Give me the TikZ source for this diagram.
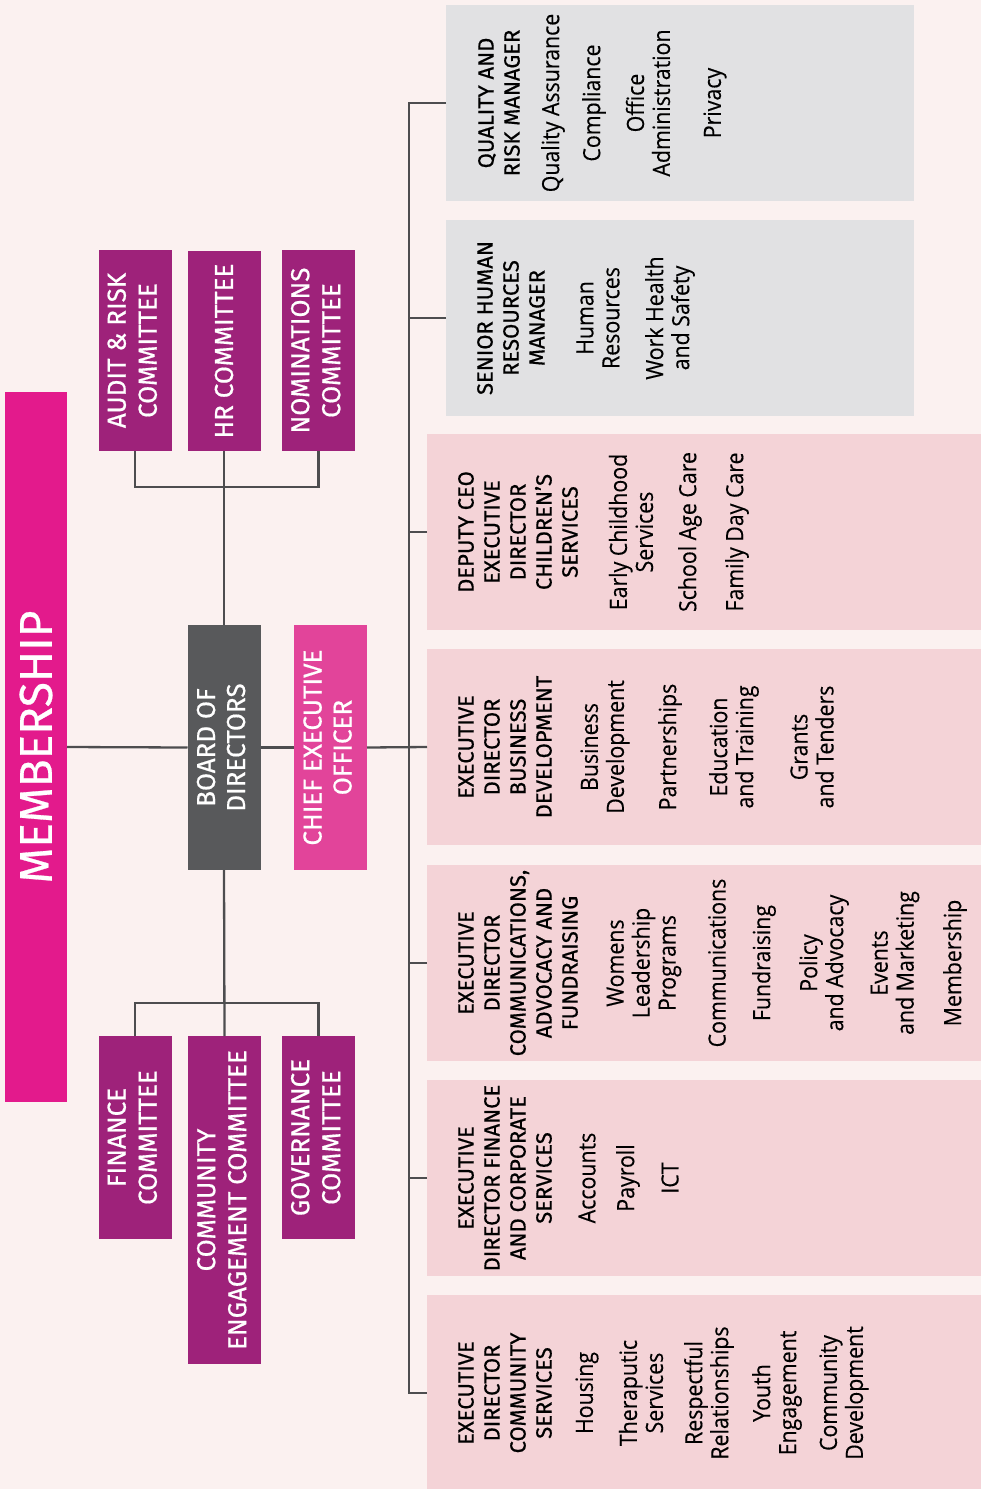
\documentclass[tikz,border=0pt]{standalone}
\usepackage{fontspec}
\newfontfamily\headf[FakeBold=0.6]{Fira Sans}
\newfontfamily\bodyf[FakeStretch=0.9,FakeBold=0.3]{Open Sans}
\definecolor{bgc}{HTML}{FBF1F0}
\definecolor{memc}{HTML}{E31A8C}
\definecolor{comc}{HTML}{9E227A}
\definecolor{boardc}{HTML}{58595B}
\definecolor{ceoc}{HTML}{E2449A}
\definecolor{grayc}{HTML}{E1E1E3}
\definecolor{pinkc}{HTML}{F4D3D7}
\definecolor{linec}{HTML}{4D4D4F}
\begin{document}
\begin{tikzpicture}[x=1pt,y=-1pt,
  rect/.style={draw=none,inner sep=0pt,outer sep=0pt,anchor=center,text=white},
  combox/.style={rect,fill=comc,minimum width=73pt,font=\headf\fontsize{26}{31}\selectfont},
  dept/.style={rect,minimum width=554pt,minimum height=196pt,fill=pinkc},
  mgr/.style={rect,minimum width=468pt,minimum height=196pt,fill=grayc},
  hd/.style={rotate=90,align=center,inner sep=0pt,text=black,font=\headf\fontsize{22}{26}\selectfont},
  item/.style={rotate=90,align=center,inner sep=0pt,text=black,font=\bodyf\fontsize{23.7}{26}\selectfont},
  conn/.style={draw=linec,line width=2.3pt}]
\useasboundingbox (0,0) rectangle (981,1489);
\fill[bgc] (0,0) rectangle (981,1489);

% left column
\node[rect,fill=memc,minimum width=62pt,minimum height=710pt,font=\headf\fontsize{46}{46}\selectfont] (mem) at (36,747) {\rotatebox{90}{MEMBERSHIP}};
\node[rect,fill=boardc,minimum width=73pt,minimum height=245pt,font=\headf\fontsize{26}{30}\selectfont] (board) at (224,747.5) {\rotatebox{90}{\begin{tabular}{@{}c@{}}BOARD OF\\DIRECTORS\end{tabular}}};
\node[rect,fill=ceoc,minimum width=73pt,minimum height=245pt,font=\headf\fontsize{26}{30}\selectfont] (ceo) at (330.5,747.5) {\rotatebox{90}{\begin{tabular}{@{}c@{}}CHIEF EXECUTIVE\\OFFICER\end{tabular}}};

\node[combox,minimum height=201pt] (audit) at (135,350.5) {\rotatebox{90}{\begin{tabular}{@{}c@{}}AUDIT \& RISK\\COMMITTEE\end{tabular}}};
\node[combox,minimum height=200pt] (hrc) at (224,351) {\rotatebox{90}{HR COMMITTEE}};
\node[combox,minimum height=201pt] (nom) at (318.5,350.5) {\rotatebox{90}{\begin{tabular}{@{}c@{}}NOMINATIONS\\COMMITTEE\end{tabular}}};

\node[combox,minimum height=203pt] (finc) at (135,1137.5) {\rotatebox{90}{\begin{tabular}{@{}c@{}}FINANCE\\COMMITTEE\end{tabular}}};
\node[combox,minimum height=328pt] (cec) at (224.5,1200) {\rotatebox{90}{\begin{tabular}{@{}c@{}}COMMUNITY\\ENGAGEMENT COMMITTEE\end{tabular}}};
\node[combox,minimum height=203pt] (gov) at (318.5,1137.5) {\rotatebox{90}{\begin{tabular}{@{}c@{}}GOVERNANCE\\COMMITTEE\end{tabular}}};

% right column boxes
\node[mgr] (qual) at (680,103) {};
\node[mgr] (hrm) at (680,318) {};
\node[dept] (dep) at (704,532) {};
\node[dept] (bd) at (704,747) {};
\node[dept] (com) at (704,963) {};
\node[dept] (fin) at (704,1178) {};
\node[dept] (cs) at (704,1393) {};

% connectors
\coordinate (jt) at (224,487);
\coordinate (jb) at (224,1003);
\coordinate (tr) at (409,103);
\draw[conn] (mem.east) -- (board.west);
\draw[conn] (board.east) -- (ceo.west);
\draw[conn] (ceo.east) -- (bd.west);
\draw[conn] (audit.south) -- (audit.south |- jt) -- (nom.south |- jt) -- (nom.south);
\draw[conn] (hrc.south) -- (board.north);
\draw[conn] (board.south) -- (cec.north);
\draw[conn] (finc.north) -- (finc.north |- jb) -- (gov.north |- jb) -- (gov.north);
\draw[conn] (qual.west) -- (qual.west -| tr) -- (cs.west -| tr) -- (cs.west);
\draw[conn] (hrm.west) -- (hrm.west -| tr);
\draw[conn] (dep.west) -- (dep.west -| tr);
\draw[conn] (com.west) -- (com.west -| tr);
\draw[conn] (fin.west) -- (fin.west -| tr);

% Quality and risk
\node[hd] (q0) at (499,103) {QUALITY AND\\RISK MANAGER};
\node[item] (q1) at (553,103) {Quality Assurance};
\node[item] (q2) at (594,103) {Compliance};
\node[item] (q3) at (648,103) {Office\\Administration};
\node[item] (q4) at (715,103) {Privacy};
% Senior HR
\node[hd] (h0) at (511,318) {SENIOR HUMAN\\RESOURCES\\MANAGER};
\node[item] (h1) at (598,318) {Human\\Resources};
\node[item] (h2) at (670,318) {Work Health\\and Safety};
% Deputy CEO
\node[hd] (d0) at (518,532) {DEPUTY CEO\\EXECUTIVE\\DIRECTOR\\CHILDREN’S\\SERVICES};
\node[item] (d1) at (631,532) {Early Childhood\\Services};
\node[item] (d2) at (690,532) {School Age Care};
\node[item] (d3) at (737,532) {Family Day Care};
% Business development
\node[hd] (b0) at (505,747) {EXECUTIVE\\DIRECTOR\\BUSINESS\\DEVELOPMENT};
\node[item] (b1) at (605,747) {Business\\Development};
\node[item] (b2) at (670,747) {Partnerships};
\node[item] (b3) at (734,747) {Education\\and Training};
\node[item] (b4) at (812,747) {Grants\\and Tenders};
% Communications
\node[hd] (c0) at (518,963) {EXECUTIVE\\DIRECTOR\\COMMUNICATIONS,\\ADVOCACY AND\\FUNDRAISING};
\node[item] (c1) at (644,963) {Womens\\Leadership\\Programs};
\node[item] (c2) at (717,963) {Communications};
\node[item] (c3) at (764,963) {Fundraising};
\node[item] (c4) at (824,963) {Policy\\and Advocacy};
\node[item] (c5) at (895,963) {Events\\and Marketing};
\node[item] (c6) at (955,963) {Membership};
% Finance
\node[hd] (f0) at (505,1178) {EXECUTIVE\\DIRECTOR FINANCE\\AND CORPORATE\\SERVICES};
\node[item] (f1) at (587,1178) {Accounts};
\node[item] (f2) at (628,1178) {Payroll};
\node[item] (f3) at (670,1178) {ICT};
% Community services
\node[hd] (s0) at (505,1393) {EXECUTIVE\\DIRECTOR\\COMMUNITY\\SERVICES};
\node[item] (s1) at (587,1393) {Housing};
\node[item] (s2) at (641,1393) {Theraputic\\Services};
\node[item] (s3) at (709,1393) {Respectful\\Relationships};
\node[item] (s4) at (777,1393) {Youth\\Engagement};
\node[item] (s5) at (844,1393) {Community\\Development};
\end{tikzpicture}
\end{document}
